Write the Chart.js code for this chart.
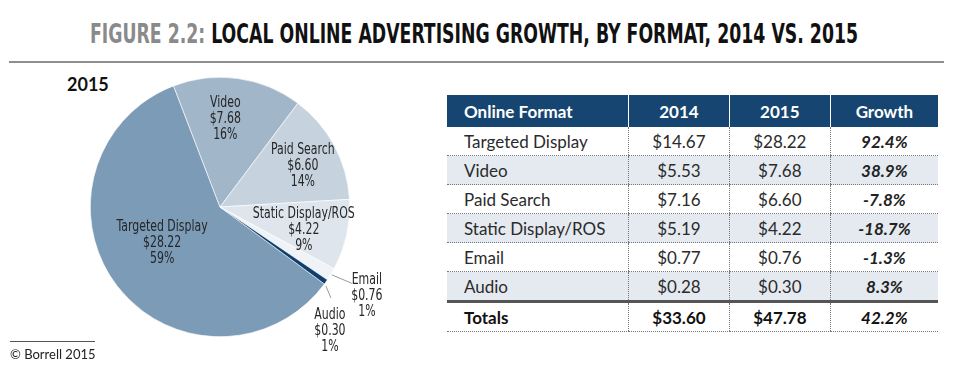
<!DOCTYPE html>
<html>
<head>
<meta charset="utf-8">
<script src="https://cdn.jsdelivr.net/npm/chart.js@4/dist/chart.umd.min.js"></script>
<style>
  html, body { margin:0; padding:0; background:#fff; }
  body { width:956px; height:371px; position:relative; overflow:hidden; font-family: Lato, "Liberation Sans", sans-serif; }
  #title { position:absolute; left:90px; top:20px; font-family:"Liberation Sans Narrow","DejaVu Sans Condensed","Liberation Sans",sans-serif; font-weight:bold; font-size:27px; line-height:27px; white-space:nowrap; transform-origin:0 0; color:#111; }
  #title .fig { color:#8a8a8a; }
  #rule { position:absolute; left:9px; top:61px; width:935px; height:2px; background:#8e8e8e; }
  #year { position:absolute; left:67px; top:74px; font-family:Lato, sans-serif; font-weight:bold; font-size:18px; line-height:20px; color:#111; }
  #copy { position:absolute; left:10px; top:346px; font-family:Lato, sans-serif; font-size:13px; line-height:16px; color:#222; }
  #copyline { position:absolute; left:10px; top:341px; width:85px; height:1px; background:#555; }
  #chartbox { position:absolute; left:0; top:65px; width:440px; height:306px; }
  #tbl { position:absolute; left:447px; top:95px; width:491px; border-collapse:collapse; font-family:Lato, sans-serif; font-size:17px; color:#2b2b2b; }
  #tbl th { background:#174571; color:#fff; font-weight:bold; height:32px; padding:0; text-align:center; border-left:1px solid #fff; font-size:17px; }
  #tbl th:first-child { text-align:left; padding-left:17px; border-left:none; }
  #tbl td { height:28px; padding:0; text-align:center; border-left:1px dotted #777; border-bottom:1px dotted #777; }
  #tbl td:first-child { text-align:left; padding-left:17px; border-left:none; }
  #tbl tr.alt td { background:#e5eaf0; }
  #tbl td.g { font-weight:bold; font-style:italic; color:#222; }
  #tbl tr.tot td { font-weight:bold; border-top:3px solid #555; height:28px; color:#111; }
</style>
</head>
<body>
<div id="title"><span class="fig">FIGURE 2.2:</span> LOCAL ONLINE ADVERTISING GROWTH, BY FORMAT, 2014 VS. 2015</div>
<div id="rule"></div>
<div id="year">2015</div>
<div id="chartbox"><canvas id="pie"></canvas></div>
<div id="copyline"></div>
<div id="copy">© Borrell 2015</div>
<table id="tbl"></table>
<script>
// ---- data ----
const categories = ["Targeted Display", "Video", "Paid Search", "Static Display/ROS", "Email", "Audio"];
const values2014 = [14.67, 5.53, 7.16, 5.19, 0.77, 0.28];
const values2015 = [28.22, 7.68, 6.60, 4.22, 0.76, 0.30];
const growthPct  = [92.4, 38.9, -7.8, -18.7, -1.3, 8.3];
const sharePct2015 = [59, 16, 14, 9, 1, 1];
const totals = { y2014: 33.60, y2015: 47.78, growth: 42.2 };
const tableHeaders = ["Online Format", "2014", "2015", "Growth"];

// ---- styles ----
const sliceColors = ["#7b9bb6", "#a1b6c9", "#c6d3df", "#dee5ed", "#eff2f6", "#0f3f6c"];
// label placement: inside = radius fraction + angle tweak (deg); outside = leader + text offsets (px)
const labelPlace = [
  { f:0.525, da:5.5 },
  { f:0.678, da:-4.5 },
  { f:0.712, da:2.0 },
  { f:0.670, da:2.8 },
  { out:true, l0:[1,0.5], l1:[21,9], t:[36,21.5] },
  { out:true, l0:[0,4], l1:[5,16], t:[4,49] }
];

// ---- table ----
(function buildTable(){
  const t = document.getElementById('tbl');
  let h = '<tr>' + tableHeaders.map(x => '<th>' + x + '</th>').join('') + '</tr>';
  categories.forEach((c, i) => {
    h += '<tr' + (i % 2 === 1 ? ' class="alt"' : '') + '><td>' + c + '</td><td>$' + values2014[i].toFixed(2) +
         '</td><td>$' + values2015[i].toFixed(2) + '</td><td class="g">' + growthPct[i].toFixed(1) + '%</td></tr>';
  });
  h += '<tr class="tot"><td>Totals</td><td>$' + totals.y2014.toFixed(2) + '</td><td>$' + totals.y2015.toFixed(2) +
       '</td><td class="g">' + totals.growth.toFixed(1) + '%</td></tr>';
  t.innerHTML = h;
  t.querySelectorAll('th')[0].style.width = '164px';
})();

// ---- title fit ----
function fitTitle(){
  const el = document.getElementById('title');
  el.style.transform = 'none';
  const w = el.getBoundingClientRect().width;
  el.style.transform = 'scaleX(' + (768 / w) + ')';
}
fitTitle();
if (document.fonts && document.fonts.ready) document.fonts.ready.then(fitTitle);

// ---- pie labels plugin ----
const pieLabels = {
  id: 'pieLabels',
  afterDatasetsDraw(chart) {
    const ctx = chart.ctx;
    const meta = chart.getDatasetMeta(0);
    ctx.save();
    ctx.font = '16px "DejaVu Sans Condensed", "Liberation Sans Narrow", sans-serif';
    ctx.fillStyle = '#262626';
    ctx.textAlign = 'center';
    ctx.textBaseline = 'middle';
    const lh = 16;
    const sx = 0.76;
    meta.data.forEach((arc, i) => {
      const p = arc.getProps(['x','y','startAngle','endAngle','outerRadius'], true);
      const mid = (p.startAngle + p.endAngle) / 2;
      const lines = [categories[i], '$' + values2015[i].toFixed(2), sharePct2015[i] + '%'];
      const pl = labelPlace[i];
      let cx, cy;
      if (!pl.out) {
        const a = mid + pl.da * Math.PI / 180;
        cx = p.x + Math.cos(a) * p.outerRadius * pl.f;
        cy = p.y + Math.sin(a) * p.outerRadius * pl.f;
      } else {
        const ox = p.x + Math.cos(mid) * p.outerRadius;
        const oy = p.y + Math.sin(mid) * p.outerRadius;
        ctx.strokeStyle = '#9a9a9a';
        ctx.lineWidth = 1;
        ctx.beginPath();
        ctx.moveTo(ox + pl.l0[0], oy + pl.l0[1]);
        ctx.lineTo(ox + pl.l1[0], oy + pl.l1[1]);
        ctx.stroke();
        cx = ox + pl.t[0];
        cy = oy + pl.t[1];
      }
      lines.forEach((s, k) => {
        ctx.save();
        ctx.translate(cx, cy + (k - 1) * lh);
        ctx.scale(sx, 1);
        ctx.fillText(s, 0, 0);
        ctx.restore();
      });
    });
    ctx.restore();
  }
};

new Chart(document.getElementById('pie'), {
  type: 'pie',
  data: {
    labels: categories,
    datasets: [{
      data: values2015,
      backgroundColor: sliceColors,
      borderColor: '#ffffff',
      borderWidth: 0.6
    }]
  },
  options: {
    responsive: true,
    maintainAspectRatio: false,
    animation: false,
    rotation: 126.4,
    layout: { padding: { left: 90, right: 90, top: 12, bottom: 34 } },
    plugins: { legend: { display: false }, tooltip: { enabled: false } }
  },
  plugins: [pieLabels]
});
</script>
</body>
</html>
